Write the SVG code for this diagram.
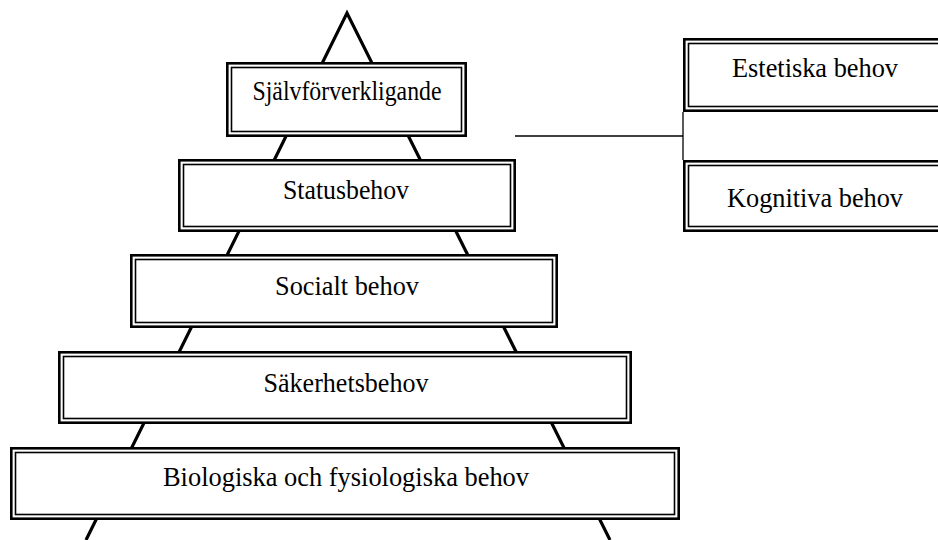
<svg xmlns="http://www.w3.org/2000/svg" width="938" height="540" viewBox="0 0 938 540">
  <style>
    .outer { fill: #fff; stroke: #000; stroke-width: 2.6; }
    .inner { fill: none; stroke: #000; stroke-width: 1.6; }
    .edge { fill: none; stroke: #000; stroke-width: 3.2; stroke-linejoin: miter; }
    .link { fill: none; stroke: #000; stroke-width: 1.3; }
    .label { font-family: "Liberation Serif", "Times New Roman", serif; font-size: 28px; fill: #000; text-anchor: middle; }
  </style>
  <rect width="938" height="540" fill="#fff"/>

  <!-- pyramid outline, drawn beneath the levels -->
  <g id="pyramid">
    <polyline class="edge" points="86,540 347,13 610,540"/>
  </g>

  <!-- connectors between the top level and the side boxes -->
  <g id="connectors">
    <line class="link" x1="515" y1="136" x2="683" y2="136"/>
    <line class="link" x1="683" y1="112" x2="683" y2="160" stroke-width="1"/>
  </g>

  <g id="sjalvforverkligande">
    <rect class="outer" x="227.3" y="63.3" width="238.4" height="72.4"/>
    <rect class="inner" x="231.5" y="67.5" width="230" height="64"/>
    <text class="label" x="347" y="100" font-size="26" textLength="189" lengthAdjust="spacingAndGlyphs">Självförverkligande</text>
  </g>

  <g id="statusbehov">
    <rect class="outer" x="179.3" y="160.3" width="335.4" height="70.4"/>
    <rect class="inner" x="183.5" y="164.5" width="327" height="62"/>
    <text class="label" x="346" y="199" textLength="126" lengthAdjust="spacingAndGlyphs">Statusbehov</text>
  </g>

  <g id="socialt-behov">
    <rect class="outer" x="131.3" y="255.3" width="425.4" height="71.4"/>
    <rect class="inner" x="135.5" y="259.5" width="417" height="63"/>
    <text class="label" x="347" y="295" textLength="144" lengthAdjust="spacingAndGlyphs">Socialt behov</text>
  </g>

  <g id="sakerhetsbehov">
    <rect class="outer" x="59.3" y="352.3" width="571.4" height="70.4"/>
    <rect class="inner" x="63.5" y="356.5" width="563" height="62"/>
    <text class="label" x="346" y="392" textLength="165" lengthAdjust="spacingAndGlyphs">Säkerhetsbehov</text>
  </g>

  <g id="biologiska-behov">
    <rect class="outer" x="11.3" y="448.3" width="667.4" height="70.4"/>
    <rect class="inner" x="15.5" y="452.5" width="659" height="62"/>
    <text class="label" x="346" y="486" textLength="366" lengthAdjust="spacingAndGlyphs">Biologiska och fysiologiska behov</text>
  </g>

  <g id="estetiska-behov">
    <rect class="outer" x="684.3" y="39.3" width="264" height="71.4"/>
    <rect class="inner" x="688.5" y="43.5" width="256" height="63"/>
    <text class="label" x="815" y="77" textLength="166" lengthAdjust="spacingAndGlyphs">Estetiska behov</text>
  </g>

  <g id="kognitiva-behov">
    <rect class="outer" x="684.3" y="161.3" width="264" height="69.4"/>
    <rect class="inner" x="688.5" y="165.5" width="256" height="61"/>
    <text class="label" x="815" y="207" textLength="176" lengthAdjust="spacingAndGlyphs">Kognitiva behov</text>
  </g>
</svg>
